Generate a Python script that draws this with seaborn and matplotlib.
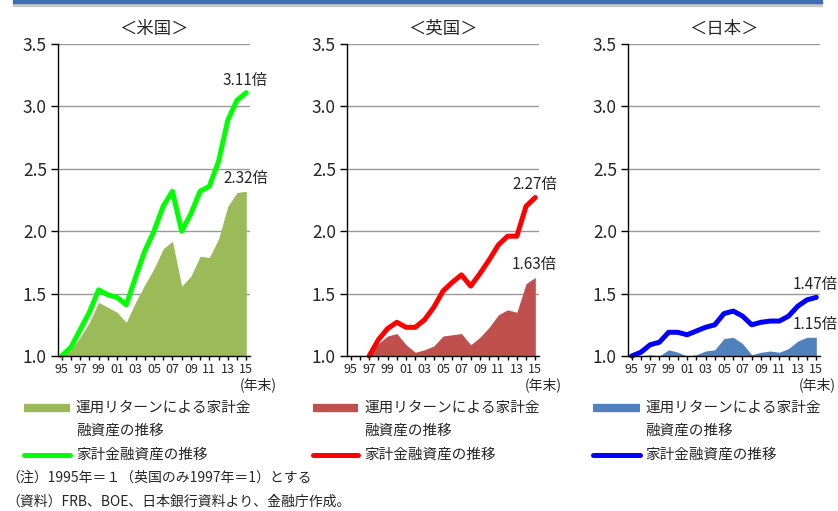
import numpy as np
import pandas as pd
import matplotlib
matplotlib.use("Agg")
import matplotlib.pyplot as plt
import seaborn as sns
from matplotlib.lines import Line2D
from matplotlib.patches import Rectangle

# --- data (index: 1995 = 1, UK: 1997 = 1) ---
years = ["95", "96", "97", "98", "99", "00", "01", "02", "03", "04", "05",
         "06", "07", "08", "09", "10", "11", "12", "13", "14", "15"]

us_total = [1.00, 1.07, 1.21, 1.35, 1.53, 1.49, 1.47, 1.41, 1.63, 1.84, 2.00,
            2.20, 2.32, 2.00, 2.14, 2.32, 2.36, 2.56, 2.89, 3.05, 3.11]
us_return = [1.00, 1.05, 1.15, 1.27, 1.43, 1.39, 1.35, 1.27, 1.43, 1.57, 1.70,
             1.86, 1.92, 1.56, 1.64, 1.80, 1.79, 1.94, 2.20, 2.31, 2.32]

uk_total = [np.nan, np.nan, 1.00, 1.13, 1.22, 1.27, 1.23, 1.23, 1.29, 1.39, 1.52,
            1.59, 1.65, 1.56, 1.66, 1.77, 1.89, 1.96, 1.96, 2.20, 2.27]
uk_return = [1.00, 1.00, 1.00, 1.10, 1.16, 1.18, 1.09, 1.03, 1.05, 1.08, 1.16,
             1.17, 1.18, 1.09, 1.15, 1.23, 1.33, 1.37, 1.35, 1.58, 1.63]

jp_total = [1.00, 1.03, 1.09, 1.11, 1.19, 1.19, 1.17, 1.20, 1.23, 1.25, 1.34,
            1.36, 1.32, 1.25, 1.27, 1.28, 1.28, 1.32, 1.40, 1.45, 1.47]
jp_return = [1.00, 1.00, 1.01, 1.00, 1.05, 1.03, 1.00, 1.01, 1.04, 1.05, 1.14,
             1.15, 1.10, 1.01, 1.03, 1.04, 1.03, 1.06, 1.12, 1.15, 1.15]

titles = ["＜米国＞", "＜英国＞", "＜日本＞"]
area_colors = ["#9BBB59", "#C0504D", "#4F81BD"]
line_colors = ["#00FF00", "#FF0000", "#0000FF"]
area_label = "運用リターンによる家計金\n融資産の推移"
line_label = "家計金融資産の推移"

W, H = 838, 511


def fx(px):
    return px / W


def fy(py):
    return 1 - py / H


sns.set_theme(style="white")
plt.rcParams['font.family'] = ['Noto Sans CJK JP', 'DejaVu Sans']

fig = plt.figure(figsize=(W / 100, H / 100), dpi=100)
fig.patch.set_facecolor("white")

# header bar remnant
fig.patches.append(Rectangle((fx(13), fy(6)), fx(809), 3 / H, transform=fig.transFigure,
                             color="#c8c8c8", zorder=0))
fig.patches.append(Rectangle((fx(13), fy(3)), fx(809), 3 / H, transform=fig.transFigure,
                             color="#3F6DB3", zorder=1))

panel_left = [58, 347, 628]
unit_right = [277, 562, 836]
series = [(us_total, us_return), (uk_total, uk_return), (jp_total, jp_return)]

for i, (total, ret) in enumerate(series):
    ax = fig.add_axes([fx(panel_left[i]), fy(356), fx(192), 312 / H])
    x = np.arange(len(years))
    df = pd.DataFrame({"x": x, "total": total, "ret": ret})

    ax.fill_between(df["x"], 1.0, df["ret"], color=area_colors[i], lw=0, zorder=2)
    sns.lineplot(data=df.dropna(), x="x", y="total", ax=ax, color=line_colors[i],
                 lw=3.6, zorder=3, clip_on=False)

    ax.set_xlim(-0.4, 20.4)
    ax.set_ylim(1.0, 3.5)
    ax.set_yticks([1.0, 1.5, 2.0, 2.5, 3.0, 3.5])
    ax.set_yticklabels([f"{v:.1f}" for v in [1.0, 1.5, 2.0, 2.5, 3.0, 3.5]], fontsize=12.5)
    ax.set_xticks(x)
    ax.set_xticklabels([y if k % 2 == 0 else "" for k, y in enumerate(years)], fontsize=9)
    ax.set_xlabel("")
    ax.set_ylabel("")
    ax.grid(axis="y", color="#999999", lw=1)
    ax.set_axisbelow(True)
    for s in ["top", "right"]:
        ax.spines[s].set_visible(False)
    for s in ["left", "bottom"]:
        ax.spines[s].set_color("black")
        ax.spines[s].set_linewidth(1)
        ax.spines[s].set_zorder(4)
    ax.tick_params(axis="y", direction="out", length=5, width=1, color="black", pad=3, left=True)
    ax.tick_params(axis="x", direction="out", length=3, width=1, color="black", pad=2, bottom=True)
    ax.set_title(titles[i], fontsize=12.5, pad=7)

    # end labels
    ax.annotate(f"{total[-1]:.2f}倍", (19.9, total[-1]), xytext=(0, 3),
                textcoords="offset points", ha="center", va="bottom", fontsize=11,
                annotation_clip=False)
    ax.annotate(f"{ret[-1]:.2f}倍", (19.9, ret[-1]), xytext=(0, 3),
                textcoords="offset points", ha="center", va="bottom", fontsize=11,
                annotation_clip=False)
    fig.text(fx(unit_right[i]), fy(385), "(年末)", ha="right", va="center", fontsize=10)

# legends drawn by hand in figure coords
legend_x = [(24, 70, 76), (313, 358, 364), (593, 640, 645)]
for i, (x0, x1, tx) in enumerate(legend_x):
    fig.add_artist(Line2D([fx(x0), fx(x1)], [fy(408), fy(408)], transform=fig.transFigure,
                          color=area_colors[i], lw=6, solid_capstyle="butt"))
    fig.text(fx(tx), fy(408), area_label.split("\n")[0], fontsize=10.5, va="center")
    fig.text(fx(tx), fy(431), area_label.split("\n")[1], fontsize=10.5, va="center")
    fig.add_artist(Line2D([fx(x0), fx(x1)], [fy(455), fy(455)], transform=fig.transFigure,
                          color=line_colors[i], lw=3.6, solid_capstyle="round"))
    fig.text(fx(tx), fy(455), line_label, fontsize=10.5, va="center")

fig.text(fx(6), fy(478), "（注）1995年＝１（英国のみ1997年＝1）とする", fontsize=10, va="center")
fig.text(fx(6), fy(502), "（資料）FRB、BOE、日本銀行資料より、金融庁作成。", fontsize=10, va="center")

fig.savefig("out.png", dpi=100)
